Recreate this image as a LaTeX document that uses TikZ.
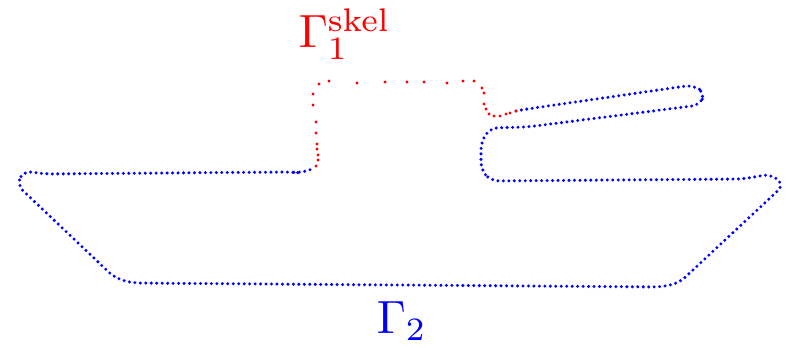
\documentclass[tikz,border=0pt]{standalone}
\tikzset{every picture/.style={line width=0.75pt}}
\tikzset{bluedots/.style={color=blue, line width=2.5pt, line cap=round, dash pattern=on 0pt off 4.1pt},
  reddot/.style={fill=red}}

\begin{document}
\begin{tikzpicture}[x=0.75pt,y=0.75pt,yscale=-1,xscale=1]
\path[use as bounding box] (0,0) rectangle (793,348);

%Dotted boundary [id:gamma2]
\draw [bluedots, rounded corners=6pt] (516,111) -- (527,109) -- (693,85) -- (705,93) -- (700,105) -- (527,127)
  -- (490,128) -- (481,142) -- (481,170) -- (491,181) -- (743,179) -- (771,174) -- (784,185)
  -- (679,283) -- (661,287) -- (132,283) -- (115,278) -- (17,185) -- (23,171) -- (45,174)
  -- (290,172) -- (301,173) -- (312,169);

%Skeleton points [id:gamma1]
\foreach \p in {(316,166), (318,160), (318,155), (317,149), (317,144), (316,133),
  (316,122), (313,105), (313,94), (319,84), (329,81), (357,83), (385,82), (407,82),
  (424,82), (447,83), (463,81), (474,81), (482,88), (484,93), (484,104), (486,109),
  (489,114), (494,116), (500,116), (506,114), (510,113), (516,111)}
  \fill [reddot] \p circle (1.2pt);

% Text Node
\node (skel) [anchor=base west, inner sep=0pt, red, scale=3.5] at (297,48) {$\Gamma_1^{\mathrm{skel}}$};
% Text Node
\node (outer) [anchor=base west, inner sep=0pt, blue, scale=3.5] at (375,334) {$\Gamma_2$};

\end{tikzpicture}
\end{document}
